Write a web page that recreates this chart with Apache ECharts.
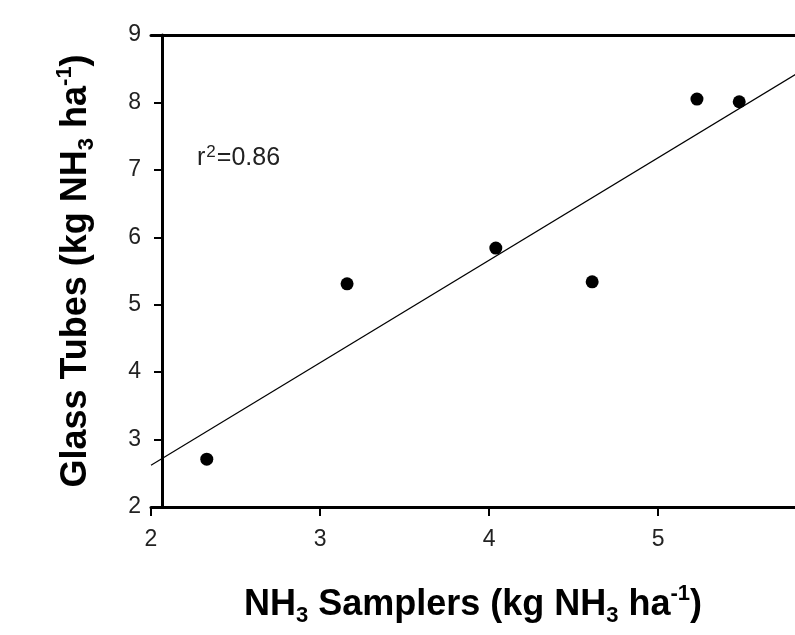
<!DOCTYPE html>
<html>
<head>
<meta charset="utf-8">
<script src="https://cdn.jsdelivr.net/npm/echarts@6/dist/echarts.min.js"></script>
<style>
  html, body { margin: 0; padding: 0; background: #fff; }
  #main { width: 795px; height: 635px; }
</style>
</head>
<body>
<div id="main"></div>
<script>
// values
var samplers = [2.33, 3.16, 4.04, 4.61, 5.23, 5.48];
var glassTubes = [2.71, 5.31, 5.84, 5.34, 8.05, 8.01];
// fitted line, end points
var trendX = [2, 6];
var trendY = [2.62, 8.70];
// the picture is cut at the right, around x = 5.81
var xMin = 2, xMax = 5.81;
var yTicks = [2, 3, 4, 5, 6, 7, 8, 9];

var chart = echarts.init(document.getElementById('main'));

var points = samplers.map(function (x, i) { return [x, glassTubes[i]]; });
var trend = trendX.map(function (x, i) { return [x, trendY[i]]; });

var titleRich = {
  b: { fontFamily: 'Liberation Sans', fontWeight: 'bold', fontSize: 36, color: '#000' },
  sub: { fontFamily: 'Liberation Sans', fontWeight: 'bold', fontSize: 22, color: '#000', padding: [22, 0, 0, 0] },
  sup: { fontFamily: 'Liberation Sans', fontWeight: 'bold', fontSize: 22, color: '#000', padding: [0, 0, 22, 0] }
};

var option = {
  animation: false,
  backgroundColor: '#fff',
  grid: { left: 151, top: 35, bottom: 128, right: 0 },
  xAxis: [{
    type: 'value',
    min: xMin,
    max: xMax,
    interval: 1,
    splitLine: { show: false },
    axisLine: { onZero: false, lineStyle: { color: '#000', width: 3 } },
    axisTick: { length: 9, lineStyle: { color: '#000', width: 2 } },
    axisLabel: {
      margin: 21, fontFamily: 'Liberation Sans', fontSize: 23, color: '#222',
      showMaxLabel: false
    },
    name: '{b|NH}{sub|3}{b| Samplers (kg NH}{sub|3}{b| ha}{sup|-1}{b|)}',
    nameLocation: 'middle',
    nameGap: 76,
    nameTextStyle: { rich: titleRich }
  }, {
    type: 'value',
    position: 'top',
    min: xMin,
    max: xMax,
    splitLine: { show: false },
    axisLine: { onZero: false, lineStyle: { color: '#000', width: 3 } },
    axisTick: { show: false },
    axisLabel: { show: false }
  }],
  yAxis: {
    type: 'value',
    min: yTicks[0],
    max: yTicks[yTicks.length - 1],
    interval: 1,
    offset: -11,
    splitLine: { show: false },
    axisLine: { onZero: false, lineStyle: { color: '#000', width: 3 } },
    axisTick: { length: 8, lineStyle: { color: '#000', width: 2 } },
    axisLabel: { margin: 21, fontFamily: 'Liberation Sans', fontSize: 23, color: '#222' },
    name: '{b|Glass Tubes (kg NH}{sub|3}{b| ha}{sup|-1}{b|)}',
    nameLocation: 'middle',
    nameRotate: 90,
    nameGap: 64,
    nameTextStyle: { rich: titleRich }
  },
  graphic: [{
    type: 'text',
    left: 197,
    top: 144,
    style: {
      text: '{t|r}{s|2}{t|=0.86}',
      rich: {
        t: { fontFamily: 'Liberation Sans', fontSize: 25, fill: '#222' },
        s: { fontFamily: 'Liberation Sans', fontSize: 17, fill: '#222', padding: [0, 1, 12, 1] }
      }
    }
  }],
  series: [{
    type: 'line',
    data: trend,
    symbol: 'none',
    lineStyle: { color: '#000', width: 1.2 },
    z: 2
  }, {
    type: 'scatter',
    data: points,
    symbol: 'circle',
    symbolSize: 13,
    itemStyle: { color: '#000', opacity: 1 },
    z: 3
  }]
};

chart.setOption(option);
</script>
</body>
</html>
